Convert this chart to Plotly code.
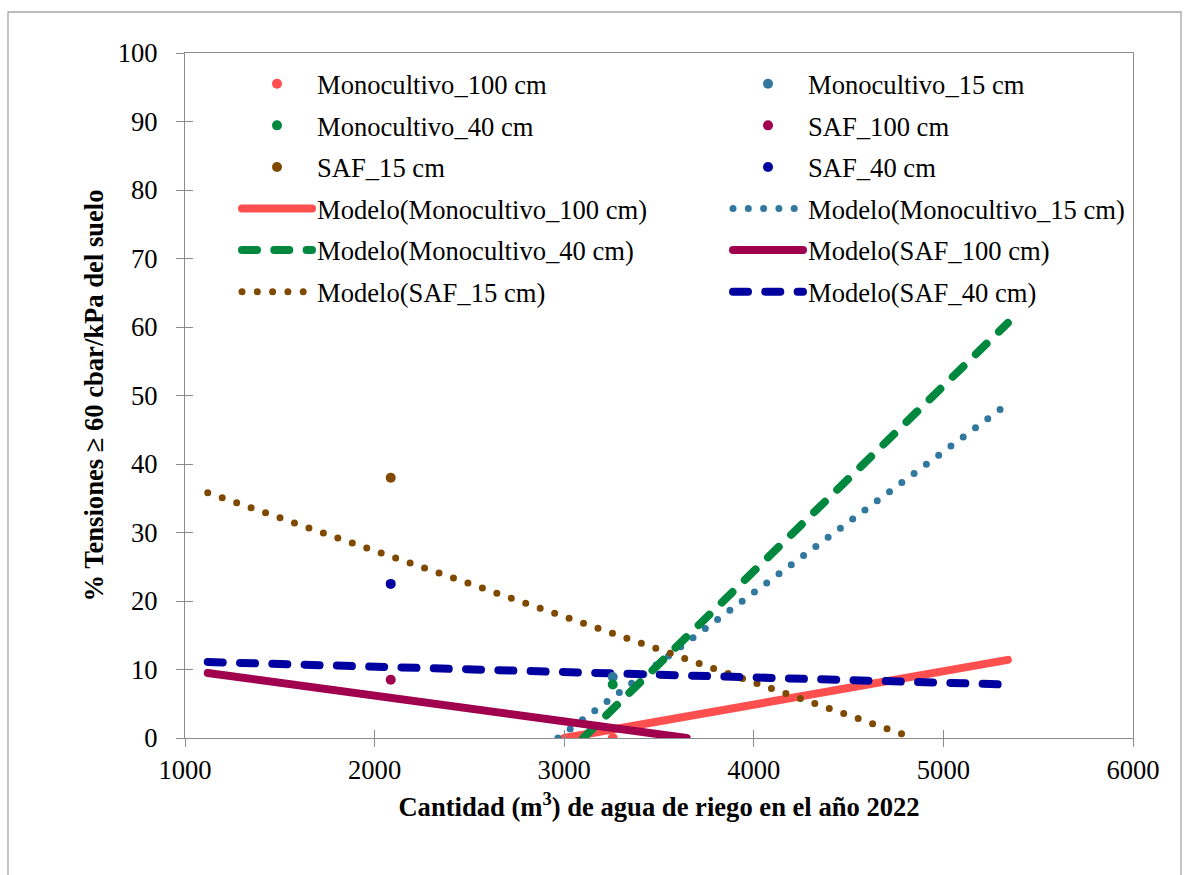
import plotly.graph_objects as go

# ---- data ----
series_names = ["Monocultivo_100 cm", "Monocultivo_15 cm", "Monocultivo_40 cm",
                "SAF_100 cm", "SAF_15 cm", "SAF_40 cm"]
colors = ["#FF4F4F", "#31789E", "#00883F", "#A0004E", "#7F4A00", "#0000A0"]

# observed points (irrigation m3, % tensions)
point_x = [3256, 3256, 3256, 2085, 2085, 2085]
point_y = [0.0, 8.9, 7.8, 8.5, 38.0, 22.5]

# linear model segments as visible inside the 0-100 range
model_x0 = [3000, 2967, 3100, 1120, 1120, 1120]
model_x1 = [5340, 5340, 5340, 3646, 4845, 5340]
model_y0 = [0.0, 0.0, 0.0, 9.5, 35.8, 11.1]
model_y1 = [11.4, 48.8, 60.6, 0.0, 0.0, 7.8]

x_ticks = [1000, 2000, 3000, 4000, 5000, 6000]
y_ticks = [0, 10, 20, 30, 40, 50, 60, 70, 80, 90, 100]

# styles (round line caps are applied in the page script below)
model_dash = ["solid", "0px,15.3px", "15px,17.3px", "solid", "0px,15.3px", "15px,17.3px"]
model_width = [8, 7, 8, 8, 7, 8]
legend_of = ["legend", "legend2", "legend", "legend2", "legend", "legend2"]

FONT = '"Liberation Serif", "Times New Roman", serif'
FS = 26.6
W, H = 1189, 875
L, R, T, B = 185, 56, 53, 137
PW, PH = W - L - R, H - T - B

fig = go.Figure()

for i, name in enumerate(series_names):
    fig.add_trace(go.Scatter(
        x=[model_x0[i], model_x1[i]], y=[model_y0[i], model_y1[i]],
        mode="lines", name=f"Modelo({name})",
        line=dict(color=colors[i], width=model_width[i], dash=model_dash[i]),
        legend=legend_of[i], legendgroup=f"m{i}", legendrank=100 + i,
        hoverinfo="skip"))

for i, name in enumerate(series_names):
    fig.add_trace(go.Scatter(
        x=[point_x[i]], y=[point_y[i]], mode="markers", name=name,
        marker=dict(color=colors[i], size=10),
        legend=legend_of[i], legendgroup=f"p{i}", legendrank=i))

axis_col = "#8C8C8C"
tickfont = dict(family=FONT, size=FS, color="black")

fig.update_layout(
    width=W, height=H,
    margin=dict(l=L, r=R, t=T, b=B),
    paper_bgcolor="white", plot_bgcolor="white",
    font=dict(family=FONT, size=FS, color="black"),
    xaxis=dict(range=[1000, 6000], tickvals=x_ticks, ticktext=[str(v) for v in x_ticks],
               showgrid=False, zeroline=False, showline=True, linecolor=axis_col,
               linewidth=1.3, mirror=True, ticks="outside", ticklen=8, tickcolor=axis_col,
               tickwidth=1.3, tickfont=tickfont,
               title=dict(text="<b>Cantidad (m<sup>3</sup>) de agua de riego en el año 2022</b>",
                          font=dict(family=FONT, size=FS), standoff=13)),
    yaxis=dict(range=[0, 100], tickvals=y_ticks, ticktext=[str(v) for v in y_ticks],
               showgrid=False, zeroline=False, showline=True, linecolor=axis_col,
               linewidth=1.3, mirror=True, ticks="outside", ticklen=8, tickcolor=axis_col,
               tickwidth=1.3, tickfont=tickfont, ticklabelstandoff=13,
               title=dict(text="<b>% Tensiones ≥ 60 cbar/kPa del suelo</b>",
                          font=dict(family=FONT, size=FS), standoff=6)),
    xaxis2=dict(overlaying="x", anchor="y", range=[1000, 6000], tickvals=x_ticks,
                showticklabels=False, showgrid=False, zeroline=False, showline=False,
                ticks="inside", ticklen=8, tickcolor=axis_col, tickwidth=1.3, side="bottom"),
    yaxis2=dict(overlaying="y", anchor="x", range=[0, 100], tickvals=y_ticks,
                showticklabels=False, showgrid=False, zeroline=False, showline=False,
                ticks="inside", ticklen=8, tickcolor=axis_col, tickwidth=1.3, side="left"),
    legend=dict(x=(237 - L) / PW, y=(H - B - 60) / PH, xanchor="left", yanchor="top",
                bgcolor="rgba(0,0,0,0)", font=dict(family=FONT, size=FS),
                itemwidth=70, tracegroupgap=4, traceorder="grouped"),
    legend2=dict(x=(728 - L) / PW, y=(H - B - 60) / PH, xanchor="left", yanchor="top",
                 bgcolor="rgba(0,0,0,0)", font=dict(family=FONT, size=FS),
                 itemwidth=70, tracegroupgap=4, traceorder="grouped"),
    shapes=[dict(type="rect", xref="paper", yref="paper",
                 x0=(8 - L) / PW, x1=(1181 - L) / PW,
                 y0=(H - B - 880) / PH, y1=(H - B - 12) / PH,
                 line=dict(color="#A6A6A6", width=1.3), layer="below")],
    showlegend=True,
)

fig.add_trace(go.Scatter(x=[None], y=[None], xaxis="x2", yaxis="y2",
                         showlegend=False, hoverinfo="skip"))

post = """
var gd = document.getElementById('{plot_id}');
function roundCaps(){
  gd.querySelectorAll('path.js-line, .legendlines path').forEach(function(p){
    p.style.strokeLinecap = 'round';
  });
}
roundCaps();
gd.on('plotly_afterplot', roundCaps);
"""

fig.write_html("out.html", post_script=post)
